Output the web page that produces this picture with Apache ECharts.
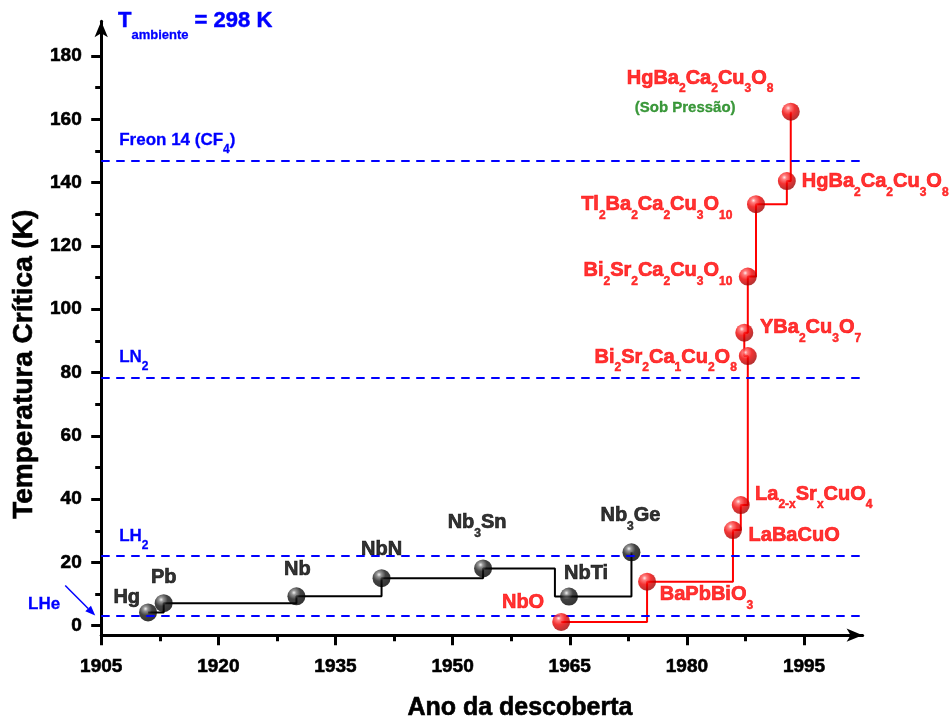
<!DOCTYPE html>
<html>
<head>
<meta charset="utf-8">
<script src="https://cdn.jsdelivr.net/npm/echarts@6/dist/echarts.min.js"></script>
<style>
html,body{margin:0;padding:0;background:#ffffff;}
#c{width:951px;height:719px;}
</style>
</head>
<body>
<div id="c"></div>
<script>
// ---------------- data ----------------
const xMin = 1905, xMax = 2002.5, yMin = -3, yMax = 191;
const xTickLabels = [1905, 1920, 1935, 1950, 1965, 1980, 1995];
const xMinorTicks = [1912.5, 1927.5, 1942.5, 1957.5, 1972.5, 1987.5];
const yTickLabels = [0, 20, 40, 60, 80, 100, 120, 140, 160, 180];
const yMinorTicks = [10, 30, 50, 70, 90, 110, 130, 150, 170];

const blackNames = ['Hg', 'Pb', 'Nb', 'NbN', 'Nb_3Sn', 'NbTi', 'Nb_3Ge'];
const blackYears = [1911, 1913, 1930, 1940.9, 1953.9, 1964.9, 1972.9];
const blackTc = [4.2, 7.1, 9.3, 15.0, 18.1, 9.2, 23.2];
const blackStepYears = [1911, 1913, 1930, 1940.9, 1953.9, 1963.1, 1964.9, 1972.9];
const blackStepTc = [4.2, 7.1, 9.3, 15.0, 18.1, 9.2, 9.2, 23.2];

const redNames = ['NbO', 'BaPbBiO_3', 'LaBaCuO', 'La_{2-x}Sr_xCuO_4', 'Bi_2Sr_2Ca_1Cu_2O_8',
  'YBa_2Cu_3O_7', 'Bi_2Sr_2Ca_2Cu_3O_{10}', 'Tl_2Ba_2Ca_2Cu_3O_{10}', 'HgBa_2Ca_2Cu_3O_8', 'HgBa_2Ca_2Cu_3O_8'];
const redYears = [1963.9, 1974.9, 1985.9, 1986.9, 1987.8, 1987.35, 1987.8, 1988.85, 1992.8, 1993.3];
const redTc = [1.2, 13.9, 30.2, 38.1, 85.2, 92.6, 110.3, 133.2, 140.5, 162.4];
const redNotes = ['', '', '', '', '', '', '', '', '', '(Sob Pressão)'];

const coolantNames = ['Freon 14 (CF_4)', 'LN_2', 'LH_2', 'LHe'];
const coolantTemps = [147, 78.5, 22, 3.2];
const ambientText = 'T_{ambiente} = 298 K';
const xName = 'Ano da descoberta';
const yName = 'Temperatura Crítica (K)';

// ---------------- styles / layout ----------------
const FF = "'Liberation Sans', Arial, Helvetica, sans-serif";
const RED = '#ff0000', BLUE = '#0000ff', GREEN = '#0c7f0c';

// label placement per ball: [align, dx, baseline dy] relative to ball centre (pixels)
const blackLabelLayout = [
  ['right', -8, -7.5], ['center', 0, -19], ['center', 1, -20], ['center', 0, -22],
  ['center', -6, -39], ['left', -5, -16], ['center', -1, -29.6]
];
const redLabelLayout = [
  ['right', -17, -12], ['left', 12.7, 20], ['left', 15.6, 12.3], ['left', 14.3, -4],
  ['right', -11, 8], ['left', 15.7, 2.3], ['right', -15.4, 0.6], ['right', -23.7, 7.7],
  ['left', 15, 7.3], ['left', -164, -26.7]
];

function toRich(str, m, s) {
  let out = '', buf = '', i = 0;
  while (i < str.length) {
    if (str[i] === '_') {
      if (buf) { out += '{' + m + '|' + buf + '}'; buf = ''; }
      let sub;
      if (str[i + 1] === '{') { const j = str.indexOf('}', i); sub = str.slice(i + 2, j); i = j + 1; }
      else { sub = str[i + 1]; i += 2; }
      out += '{' + s + '|' + sub + '}';
    } else { buf += str[i]; i++; }
  }
  if (buf) out += '{' + m + '|' + buf + '}';
  return out;
}

function ball(colors) {
  const offs = [0, 0.18, 0.5, 1];
  return new echarts.graphic.RadialGradient(0.36, 0.3, 0.72, colors.map((c, i) => ({ offset: offs[i], color: c })));
}
const redBall = ball(['#ffe6e6', '#ff5a5a', '#f00000', '#a00000']);
const blackBall = ball(['#f0f0f0', '#7a7a7a', '#141414', '#000000']);

function heavy(color, w) { return { textBorderColor: color, textBorderWidth: w, textShadowBlur: 0 }; }
function labelRich(color) {
  return {
    m: Object.assign({ fontFamily: FF, fontSize: 20, fontWeight: 'bold', color: color, lineHeight: 20, verticalAlign: 'top' }, heavy(color, 0.7)),
    s: Object.assign({ fontFamily: FF, fontSize: 12, fontWeight: 'bold', color: color, verticalAlign: 'top', padding: [15, 0, 0, 0] }, heavy(color, 0.5)),
    g: Object.assign({ fontFamily: FF, fontSize: 15, fontWeight: 'bold', color: GREEN, verticalAlign: 'top', padding: [5, 0, 0, 8] }, heavy(GREEN, 0.3))
  };
}

function ballData(years, tcs, names, notes, layout) {
  return years.map((y, i) => {
    const [align, dx, dy] = layout[i];
    let f = toRich(names[i], 'm', 's');
    if (notes && notes[i]) f += '\n{g|' + notes[i] + '}';
    return { value: [y, tcs[i]], name: names[i], label: { formatter: () => f, align: align, offset: [dx, dy - 17] } };
  });
}

const chart = echarts.init(document.getElementById('c'), null, { renderer: 'canvas' });

const axisCommonX = { type: 'value', min: xMin, max: xMax, splitLine: { show: false } };
const axisCommonY = { type: 'value', min: yMin, max: yMax, splitLine: { show: false } };

const option = {
  animation: false,
  backgroundColor: '#ffffff',
  title: {
    text: toRich(ambientText, 't', 'a'),
    left: 118, top: 10, padding: 0,
    textStyle: {
      rich: {
        t: Object.assign({ fontFamily: FF, fontSize: 22, fontWeight: 'bold', color: BLUE, lineHeight: 22, verticalAlign: 'top' }, heavy(BLUE, 0.5)),
        a: Object.assign({ fontFamily: FF, fontSize: 13, fontWeight: 'bold', color: BLUE, verticalAlign: 'top', padding: [18.5, 0, 0, 0] }, heavy(BLUE, 0.3))
      }
    }
  },
  grid: { left: 101.2, right: 88.4, top: 21.2, bottom: 83.8, containLabel: false, outerBoundsMode: 'none' },
  xAxis: [
    Object.assign({}, axisCommonX, {
      position: 'bottom',
      name: xName, nameLocation: 'middle', nameGap: 60,
      nameTextStyle: Object.assign({ fontFamily: FF, fontSize: 25, fontWeight: 'bold', color: '#000', padding: [0, 0, 0, 76] }, heavy('#000', 0.6)),
      axisLine: { show: true, onZero: false, symbol: ['none', 'arrow'], symbolSize: [10, 16], lineStyle: { color: '#000', width: 3 } },
      axisTick: { show: true, customValues: xTickLabels, length: 10, lineStyle: { color: '#000', width: 3 } },
      axisLabel: Object.assign({ show: true, customValues: xTickLabels, margin: 22, fontFamily: FF, fontSize: 19, fontWeight: 'bold', color: '#000', formatter: v => String(v) }, heavy('#000', 0.6))
    }),
    Object.assign({}, axisCommonX, {
      position: 'bottom',
      axisLine: { show: false, onZero: false },
      axisTick: { show: true, customValues: xMinorTicks, length: 6, lineStyle: { color: '#000', width: 3 } },
      axisLabel: { show: false }
    })
  ],
  yAxis: [
    Object.assign({}, axisCommonY, {
      position: 'left',
      name: yName, nameLocation: 'middle', nameGap: 51,
      nameTextStyle: Object.assign({ fontFamily: FF, fontSize: 28, fontWeight: 'bold', color: '#000', padding: [0, 72, 0, 0] }, heavy('#000', 0.6)),
      axisLine: { show: true, onZero: false, symbol: ['none', 'arrow'], symbolSize: [10, 16], lineStyle: { color: '#000', width: 3 } },
      axisTick: { show: true, customValues: yTickLabels, length: 10, lineStyle: { color: '#000', width: 3 } },
      axisLabel: Object.assign({ show: true, customValues: yTickLabels, margin: 19.5, fontFamily: FF, fontSize: 19, fontWeight: 'bold', color: '#000', formatter: v => String(v) }, heavy('#000', 0.6))
    }),
    Object.assign({}, axisCommonY, {
      position: 'left',
      axisLine: { show: false, onZero: false },
      axisTick: { show: true, customValues: yMinorTicks, length: 6, lineStyle: { color: '#000', width: 3 } },
      axisLabel: { show: false }
    })
  ],
  series: [
    {
      type: 'line', name: 'convencionais (linha)', xAxisIndex: 0, yAxisIndex: 0,
      data: blackStepYears.map((y, i) => [y, blackStepTc[i]]),
      step: 'end', symbol: 'none', silent: true, z: 2,
      lineStyle: { color: '#000000', width: 2 },
      markLine: {
        silent: true, symbol: ['none', 'none'],
        lineStyle: { color: BLUE, width: 2, type: [8.5, 6.5] },
        label: {
          show: true, position: 'insideStartTop', distance: [18, 4.5],
          rich: {
            bm: Object.assign({ fontFamily: FF, fontSize: 17, fontWeight: 'bold', color: BLUE, lineHeight: 17, verticalAlign: 'top' }, heavy(BLUE, 0.3)),
            bs: Object.assign({ fontFamily: FF, fontSize: 12, fontWeight: 'bold', color: BLUE, verticalAlign: 'top', padding: [12, 0, 0, 0] }, heavy(BLUE, 0.3))
          }
        },
        emphasis: { disabled: true },
        data: coolantTemps.map((t, i) => {
          const txt = toRich(coolantNames[i], 'bm', 'bs');
          return { yAxis: t, name: coolantNames[i], label: i === 3 ? { show: false } : { formatter: () => txt } };
        })
      }
    },
    {
      type: 'line', name: 'cupratos (linha)', xAxisIndex: 0, yAxisIndex: 0,
      data: redYears.map((y, i) => [y, redTc[i]]),
      step: 'end', symbol: 'none', silent: true, z: 3,
      lineStyle: { color: RED, width: 2 }
    },
    {
      type: 'scatter', name: 'convencionais', xAxisIndex: 0, yAxisIndex: 0,
      data: ballData(blackYears, blackTc, blackNames, null, blackLabelLayout),
      symbol: 'circle', symbolSize: 18, z: 4, silent: true,
      itemStyle: { color: blackBall },
      label: Object.assign({ show: true, position: 'inside', verticalAlign: 'top', color: '#000000', rich: labelRich('#000000') }, heavy('#000000', 0.7))
    },
    {
      type: 'scatter', name: 'cupratos', xAxisIndex: 0, yAxisIndex: 0,
      data: ballData(redYears, redTc, redNames, redNotes, redLabelLayout),
      symbol: 'circle', symbolSize: 18, z: 5, silent: true,
      itemStyle: { color: redBall },
      label: Object.assign({ show: true, position: 'inside', verticalAlign: 'top', color: RED, rich: labelRich(RED) }, heavy(RED, 0.7))
    }
  ]
};

chart.setOption(option);

// LHe annotation: text + arrow pointing to the start of the LHe dashed line
const lheIdx = 3;
const p0 = chart.convertToPixel({ xAxisIndex: 0, yAxisIndex: 0 }, [xMin, coolantTemps[lheIdx]]);
const tip = [p0[0] - 6, p0[1]];
const tail = [p0[0] - 36, p0[1] - 30];
const d = [tip[0] - tail[0], tip[1] - tail[1]];
const L = Math.hypot(d[0], d[1]);
const u = [d[0] / L, d[1] / L];
const nrm = [-u[1], u[0]];
const base = [tip[0] - 10 * u[0], tip[1] - 10 * u[1]];
chart.setOption({
  graphic: [
    { type: 'line', silent: true, shape: { x1: tail[0], y1: tail[1], x2: base[0], y2: base[1] }, style: { stroke: BLUE, lineWidth: 1.5 } },
    { type: 'polygon', silent: true, shape: { points: [tip, [base[0] + 4 * nrm[0], base[1] + 4 * nrm[1]], [base[0] - 4 * nrm[0], base[1] - 4 * nrm[1]]] }, style: { fill: BLUE } },
    { type: 'text', silent: true, x: p0[0] - 41, y: p0[1] - 3, style: { text: coolantNames[lheIdx], fill: BLUE, font: 'bold 17px ' + FF, align: 'right', verticalAlign: 'bottom', stroke: BLUE, lineWidth: 0.3 } }
  ]
});
</script>
</body>
</html>
